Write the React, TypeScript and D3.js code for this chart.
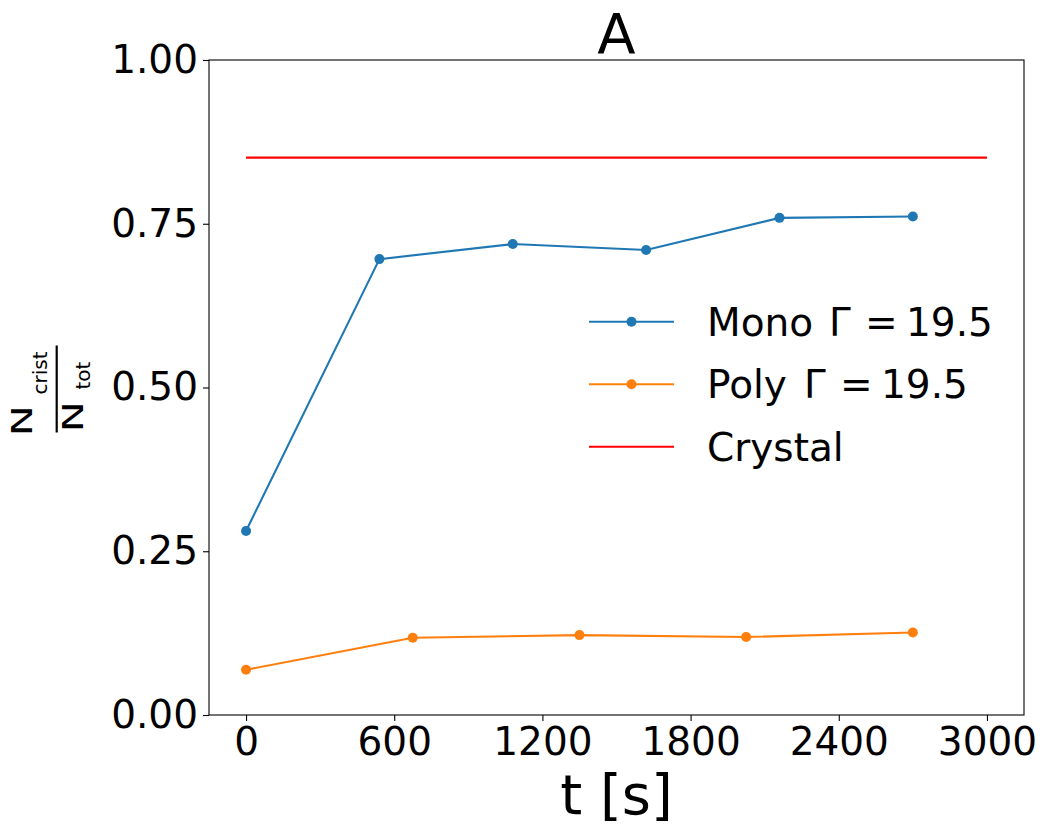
import React, { useEffect, useRef } from 'react';
import * as d3 from 'd3';

interface Pt {
  t: number;
  v: number;
}

const monoT = [0, 540, 1080, 1620, 2160, 2700];
const monoV = [0.281, 0.696, 0.719, 0.71, 0.759, 0.761];
const polyT = [0, 675, 1350, 2025, 2700];
const polyV = [0.069, 0.118, 0.122, 0.119, 0.126];
const crystalT = [0, 3000];
const crystalV = [0.851, 0.851];
const xTicks = [0, 600, 1200, 1800, 2400, 3000];
const yTicks = [0, 0.25, 0.5, 0.75, 1.0];

// legend: name, then math part "Γ = 19.5" laid out like mathtext
const legendItems = [
  { name: 'Mono', gamma: '19.5', color: '#1f77b4', marker: true, gx: 829 },
  { name: 'Poly', gamma: '19.5', color: '#ff7f0e', marker: true, gx: 804 },
  { name: 'Crystal', gamma: '', color: '#ff0000', marker: false, gx: 0 },
];

const W = 1049;
const H = 834;
const FONT = 'DejaVu Sans, sans-serif';

const App: React.FC = () => {
  const svgRef = useRef<SVGSVGElement | null>(null);

  useEffect(() => {
    const svg = d3.select(svgRef.current);
    svg.selectAll('*').remove();

    const margin = { top: 60, right: 25, bottom: 119, left: 209 };
    const x = d3.scaleLinear().domain([-150, 3150]).range([margin.left, W - margin.right]);
    const y = d3.scaleLinear().domain([0, 1]).range([H - margin.bottom, margin.top]);

    const zip = (ts: number[], vs: number[]): Pt[] => ts.map((t, i) => ({ t, v: vs[i] }));
    const mono = zip(monoT, monoV);
    const poly = zip(polyT, polyV);
    const crystal = zip(crystalT, crystalV);

    const line = d3.line<Pt>().x(d => x(d.t)).y(d => y(d.v));

    // series
    const series = [
      { data: mono, color: '#1f77b4', marker: true },
      { data: poly, color: '#ff7f0e', marker: true },
      { data: crystal, color: '#ff0000', marker: false },
    ];
    series.forEach(s => {
      svg.append('path')
        .attr('d', line(s.data))
        .attr('fill', 'none')
        .attr('stroke', s.color)
        .attr('stroke-width', 2.1);
      if (s.marker) {
        svg.append('g')
          .selectAll('circle')
          .data(s.data)
          .join('circle')
          .attr('cx', d => x(d.t))
          .attr('cy', d => y(d.v))
          .attr('r', 5)
          .attr('fill', s.color);
      }
    });

    // frame
    svg.append('rect')
      .attr('x', margin.left)
      .attr('y', margin.top)
      .attr('width', W - margin.right - margin.left)
      .attr('height', H - margin.bottom - margin.top)
      .attr('fill', 'none')
      .attr('stroke', '#000')
      .attr('stroke-width', 1.1);

    // axes
    const gx = svg.append('g')
      .attr('transform', `translate(0,${H - margin.bottom})`)
      .call(d3.axisBottom(x).tickValues(xTicks).tickSize(6).tickPadding(6).tickFormat(d3.format('d')));
    const gy = svg.append('g')
      .attr('transform', `translate(${margin.left},0)`)
      .call(d3.axisLeft(y).tickValues(yTicks).tickSize(6).tickPadding(5).tickFormat(d3.format('.2f')));
    [gx, gy].forEach(g => {
      g.select('.domain').remove();
      g.selectAll('line').attr('stroke', '#000').attr('stroke-width', 1.1);
      g.selectAll('text')
        .attr('font-family', FONT)
        .attr('font-size', 39)
        .attr('fill', '#000');
    });

    // title and x label
    svg.append('text')
      .attr('x', (margin.left + W - margin.right) / 2)
      .attr('y', 53)
      .attr('text-anchor', 'middle')
      .attr('font-family', FONT)
      .attr('font-size', 56)
      .text('A');
    svg.append('text')
      .attr('x', (margin.left + W - margin.right) / 2)
      .attr('y', 814)
      .attr('text-anchor', 'middle')
      .attr('font-family', FONT)
      .attr('font-size', 56)
      .text('t [s]');

    // y label: N_crist / N_tot
    const yl = svg.append('g')
      .attr('transform', `translate(0,${(margin.top + H - margin.bottom) / 2}) rotate(-90)`)
      .attr('font-family', FONT)
      .attr('fill', '#000');
    const addN = (lx: number, ly: number) => {
      yl.append('text')
        .attr('transform', `translate(${lx},${ly}) scale(1.5,1)`)
        .attr('font-size', 28)
        .text('N');
    };
    addN(-49, 31.7);
    yl.append('text').attr('x', -7).attr('y', 47).attr('font-size', 20).text('crist');
    yl.append('line')
      .attr('x1', -45).attr('x2', 42)
      .attr('y1', 56.7).attr('y2', 56.7)
      .attr('stroke', '#000').attr('stroke-width', 2.2);
    addN(-45, 83.3);
    yl.append('text').attr('x', -2).attr('y', 90).attr('font-size', 20).text('tot');

    // legend
    const lg = svg.append('g').attr('font-family', FONT).attr('font-size', 39).attr('fill', '#000');
    const rowY = [321.7, 384.3, 446.7];
    legendItems.forEach((it, i) => {
      const cy = rowY[i];
      lg.append('line')
        .attr('x1', 589).attr('x2', 674)
        .attr('y1', cy).attr('y2', cy)
        .attr('stroke', it.color).attr('stroke-width', 2.1);
      if (it.marker) {
        lg.append('circle').attr('cx', 631.5).attr('cy', cy).attr('r', 5).attr('fill', it.color);
      }
      const t = lg.append('text').attr('y', cy).attr('dy', '0.36em');
      t.append('tspan').attr('x', 707).text(it.name);
      if (it.gamma) {
        t.append('tspan').attr('x', it.gx).text('Γ');
        t.append('tspan').attr('x', it.gx + 36).text('=');
        t.append('tspan').attr('x', it.gx + 77).text(it.gamma);
      }
    });
  }, []);

  return (
    <svg
      ref={svgRef}
      width={W}
      height={H}
      style={{ position: 'absolute', left: 0, top: 0, background: '#fff' }}
    ></svg>
  );
};

export default App;
